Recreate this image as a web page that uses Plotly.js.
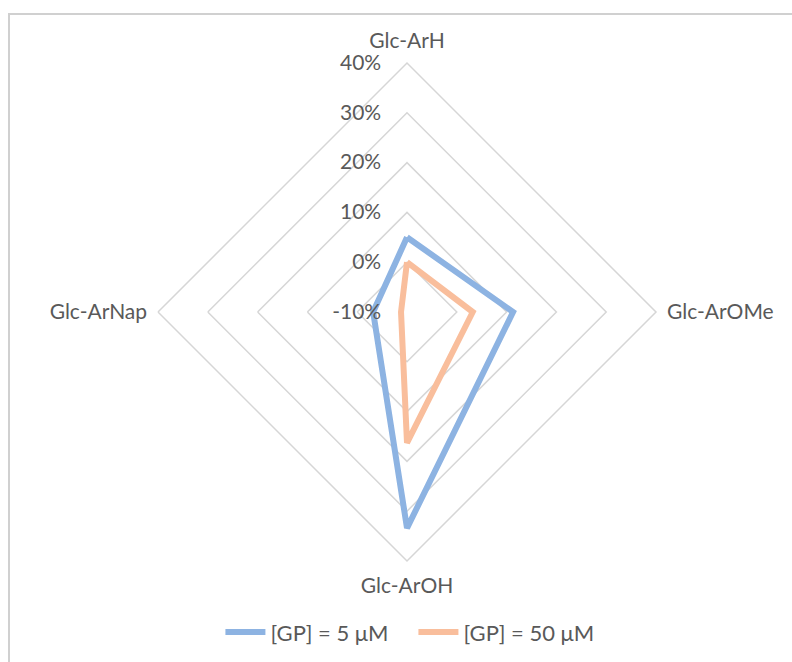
<!DOCTYPE html>
<html>
<head>
<meta charset="utf-8">
<script src="https://cdn.plot.ly/plotly-3.0.1.min.js"></script>
<style>html,body{margin:0;padding:0;background:#fff;}#chart{width:792px;height:662px;}</style>
</head>
<body>
<div id="chart"></div>
<script>
const categories = ["Glc-ArH", "Glc-ArOMe", "Glc-ArOH", "Glc-ArNap"];
const seriesNames = ["[GP] = 5 μM", "[GP] = 50 μM"];
const gp5 = [5.0, 11.3, 33.4, -3.2];
const gp50 = [0.0, 3.2, 16.3, -8.8];
const radialTicks = [-10, 0, 10, 20, 30, 40];
const radialTickLabels = ["-10%", "0%", "10%", "20%", "30%", "40%"];

const closed = a => a.concat([a[0]]);
const cats = closed(categories);
const textColor = "#595959";
const fontFam = "Lato, 'Liberation Sans', sans-serif";

const traces = [
  {type: "scatterpolar", mode: "lines", name: seriesNames[0], r: closed(gp5), theta: cats,
   line: {color: "#8DB3E2", width: 6, shape: "linear"}, hoverinfo: "skip"},
  {type: "scatterpolar", mode: "lines", name: seriesNames[1], r: closed(gp50), theta: cats,
   line: {color: "#F9BE9C", width: 6, shape: "linear"}, hoverinfo: "skip"}
];

const layout = {
  width: 792, height: 662,
  margin: {l: 0, r: 0, t: 0, b: 0},
  paper_bgcolor: "#fff",
  font: {family: fontFam, size: 21, color: textColor},
  showlegend: true,
  legend: {orientation: "h", x: 0.522, xanchor: "center", y: 0.045, yanchor: "middle",
           font: {family: fontFam, size: 22, color: textColor}, itemwidth: 40,
           entrywidth: 138, entrywidthmode: "pixels"},
  polar: {
    domain: {x: [158/792, 656/792], y: [1 - 561/662, 1 - 63/662]},
    bgcolor: "rgba(0,0,0,0)",
    gridshape: "linear",
    radialaxis: {
      range: [-10, 40], tickmode: "array", tickvals: radialTicks, ticktext: radialTickLabels,
      angle: 90, tickangle: 90, side: "counterclockwise",
      showline: false, ticks: "outside", ticklen: 18, tickcolor: "rgba(0,0,0,0)",
      gridcolor: "#d6d6d6", gridwidth: 1.5,
      tickfont: {family: fontFam, size: 21, color: textColor}
    },
    angularaxis: {
      direction: "clockwise", rotation: 90, type: "category",
      showgrid: false, showline: true, linecolor: "#d6d6d6", linewidth: 1.5,
      ticks: "outside", ticklen: 6, tickcolor: "rgba(0,0,0,0)",
      tickfont: {family: fontFam, size: 21, color: textColor}
    }
  },
  shapes: [{type: "rect", xref: "paper", yref: "paper", x0: 9/792, x1: 1.05, y0: -0.05, y1: 1 - 14/662,
            line: {color: "#d0d0d0", width: 2}, fillcolor: "rgba(0,0,0,0)", layer: "below"}]
};

Plotly.newPlot("chart", traces, layout, {displayModeBar: false, staticPlot: true});
</script>
</body>
</html>
